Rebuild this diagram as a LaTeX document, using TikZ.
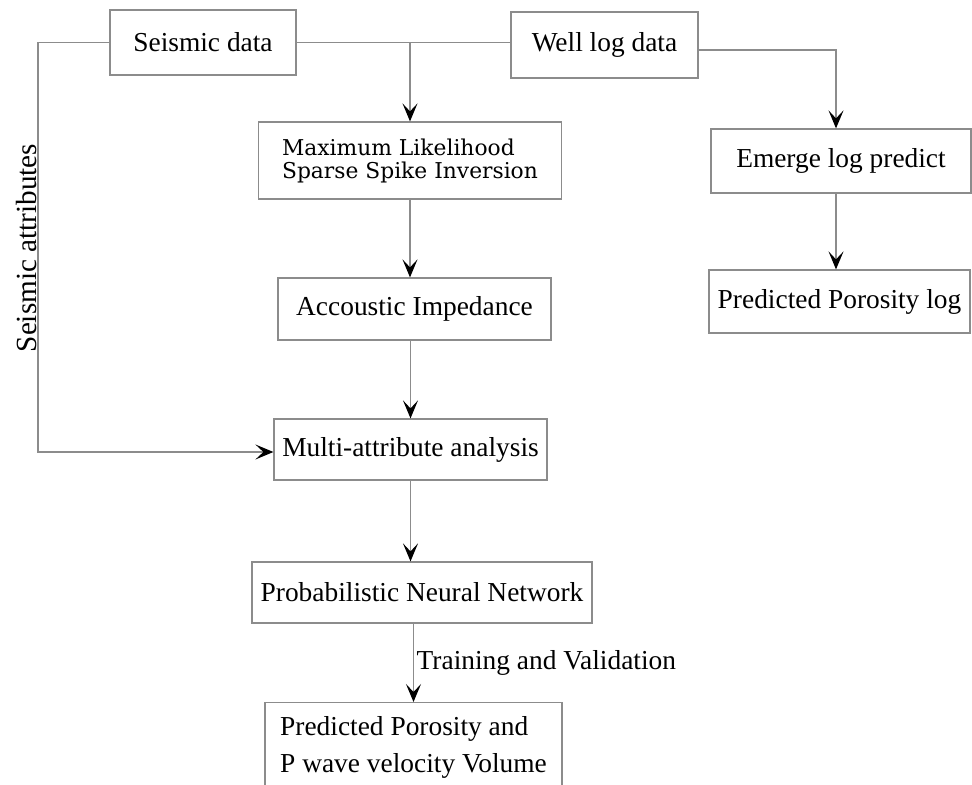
\documentclass[tikz,border=0pt]{standalone}
\usepackage{fontspec}
\setmainfont{Liberation Serif}
\newfontfamily\mlfont{DejaVu Serif}
\usetikzlibrary{positioning,arrows.meta}

\begin{document}
\begin{tikzpicture}[
        x = 0.5pt, y = -0.5pt,
        font = \fontsize{13.7}{18.5}\selectfont,
        arrowline/.style = {draw=black!45, line width=0.6pt,
            -{Stealth[length=9pt, width=7.5pt, inset=4pt, color=black]}},
        plainline/.style = {draw=black!45, line width=0.6pt}
    ]
    \tikzstyle{flowbox} = [rectangle, draw=black!45, line width=0.6pt, inner sep=0pt];
    \useasboundingbox (0,0) rectangle (972,785);
    % boxes
    \node [flowbox, minimum width=93pt, minimum height=32.5pt] (seis) at (203,42.5) {Seismic data};
    \node [flowbox, minimum width=93.5pt, minimum height=33pt] (well) at (604.5,45) {Well log data};
    \node [flowbox, minimum width=151.5pt, minimum height=38.5pt, align=left,
        font=\mlfont\fontsize{10.9}{11.5}\selectfont] (mlssi) at (410,160.5)
        {Maximum Likelihood\\Sparse Spike Inversion};
    \node [flowbox, minimum width=130pt, minimum height=32pt] (emerge) at (841,161) {Emerge log predict};
    \node [flowbox, minimum width=136.5pt, minimum height=31pt] (ai) at (414.5,309) {Accoustic Impedance};
    \node [flowbox, minimum width=130.5pt, minimum height=31.5pt] (ppl) at (839.5,301.5) {Predicted Porosity log};
    \node [flowbox, minimum width=136.5pt, minimum height=30.5pt] (ma) at (410.5,449.5) {Multi-attribute analysis};
    \node [flowbox, minimum width=170pt, minimum height=30.5pt] (pnn) at (422,592.5) {Probabilistic Neural Network};
    \node [flowbox, anchor=north, minimum width=148.5pt, inner xsep=5.5pt, inner ysep=7pt,
        align=left] (out) at (413.5,702) {Predicted Porosity and\\P wave velocity Volume};
    % turning points
    \coordinate (wturn) at (836,50);
    \coordinate (sturn) at (38,452);
    % connectors
    \draw [plainline] (seis.east) -- (seis.east -| well.west);
    \draw [arrowline] (mlssi.north |- seis.east) -- (mlssi.north);
    \draw [arrowline] (well.east |- wturn) -- (wturn) -- (wturn |- emerge.north);
    \draw [arrowline] (wturn |- emerge.south) -- (wturn |- ppl.north);
    \draw [arrowline] (seis.west) -| (sturn) -- (sturn -| ma.west);
    \node [rotate=90, anchor=south, inner sep=0.5pt, font=\fontsize{14.6}{18}\selectfont] (sattr) at (38,248) {Seismic attributes};
    \draw [arrowline] (mlssi.south) -- (mlssi.south |- ai.north);
    \draw [arrowline] (ma.north |- ai.south) -- (ma.north);
    \draw [arrowline] (ma.south) -- (ma.south |- pnn.north);
    \draw [arrowline] (out.north |- pnn.south) -- node [right, inner sep=1.3pt] (tv) {Training and Validation} (out.north);
\end{tikzpicture}
\end{document}
